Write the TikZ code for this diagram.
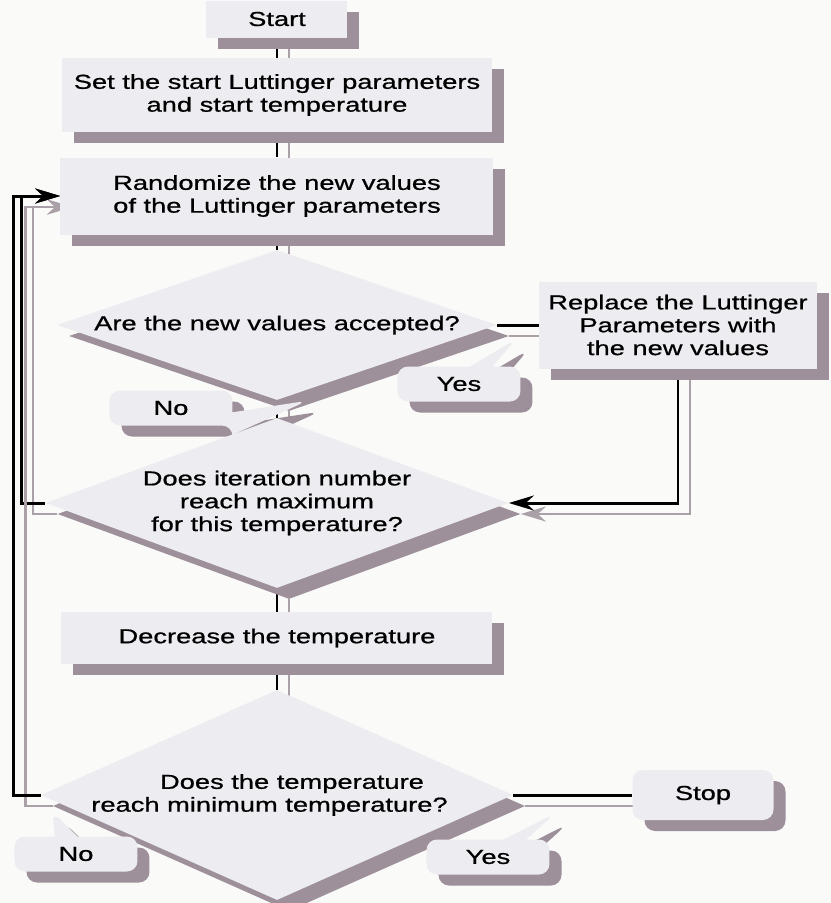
\documentclass[tikz,border=0pt]{standalone}
\usepackage{fontspec}
\setmainfont[FakeStretch=1.35, FakeBold=0.8]{Liberation Sans}
\usetikzlibrary{shapes.geometric, shapes.callouts, shadows, positioning, arrows.meta, backgrounds}

\definecolor{boxfill}{HTML}{EDECF0}
\definecolor{boxshadow}{HTML}{9D909A}
\definecolor{wireshadow}{HTML}{A9A1A7}
\definecolor{pagebg}{HTML}{FAFAF8}

\pgfdeclarelayer{paper}
\pgfsetlayers{paper,background,main}

\begin{document}
\begin{tikzpicture}[
        >={Stealth[length=5mm, width=3mm]},
        on grid,
        font=\fontsize{11.5}{13}\selectfont,
        dropped/.style={drop shadow={shadow xshift=0.24cm, shadow yshift=-0.22cm, fill=boxshadow, opacity=1}},
        stepbox/.style={rectangle, fill=boxfill, dropped, align=center, inner sep=0pt},
        decision/.style={diamond, fill=boxfill, dropped, align=center, inner sep=0pt},
        answer/.style={rectangle callout, fill=boxfill, dropped, rounded corners=6pt,
            minimum width=2.46cm, minimum height=0.7cm, callout pointer width=0.45cm},
        wire/.style={line width=1.7pt, preaction={draw=wireshadow, line width=1.5pt,
            transform canvas={shift={(0.24cm,-0.22cm)}}}}
    ]
    \useasboundingbox (-5.54,-17.68) rectangle (11.08,0.38);
    \begin{pgfonlayer}{paper}
        \fill[pagebg] (-5.54,-17.68) rectangle (11.08,0.38);
    \end{pgfonlayer}

    \node[stepbox, minimum width=2.82cm, minimum height=0.74cm] (start) {Start};
    \node[stepbox, below=1.52cm of start, minimum width=8.6cm, minimum height=1.48cm] (setp)
        {Set the start Luttinger parameters\\and start temperature};
    \node[stepbox, below=2.02cm of setp, minimum width=8.66cm, minimum height=1.54cm] (rand)
        {Randomize the new values\\of the Luttinger parameters};
    \node[decision, below=2.58cm of rand, minimum width=8.8cm, minimum height=3cm, aspect=2.93] (acc)
        {Are the new values accepted?};
    \node[stepbox, right=8.02cm of acc, minimum width=5.56cm, minimum height=1.74cm] (repl)
        {Replace the Luttinger\\Parameters with\\the new values};
    \node[answer, below right=1.18cm and 3.64cm of acc, callout relative pointer={(0.7,0.55)}] (accyes) {Yes};
    \node[answer, below left=1.66cm and 2.12cm of acc, callout relative pointer={(1.5,0.08)}] (accno) {No};
    \node[decision, below=3.56cm of acc, minimum width=9.26cm, minimum height=3.4cm, aspect=2.72] (iter)
        {Does iteration number\\reach maximum\\for this temperature?};
    \node[stepbox, below=2.7cm of iter, minimum width=8.62cm, minimum height=1.04cm] (decr)
        {Decrease the temperature};
    \node[decision, below=3.14cm of decr, minimum width=9.44cm, minimum height=4.2cm, aspect=2.25] (tmin)
        {\kern0.6cm Does the temperature\\reach minimum temperature?\kern0.3cm};
    \node[stepbox, rounded corners=6pt, right=8.52cm of tmin, minimum width=2.82cm, minimum height=1cm] (stop) {Stop};
    \node[answer, below left=1.18cm and 4.02cm of tmin, callout relative pointer={(-0.28,0.5)}] (tminno) {No};
    \node[answer, below right=1.24cm and 4.22cm of tmin, callout relative pointer={(0.8,0.52)}] (tminyes) {Yes};

    \begin{scope}[on background layer]
        \draw[wire] (start) -- (setp);
        \draw[wire] (setp) -- (rand);
        \draw[wire] (rand) -- (acc);
        \draw[wire] (acc) -- (iter);
        \draw[wire] (iter) -- (decr);
        \draw[wire] (decr) -- (tmin);
        \draw[wire] (acc) -- (repl);
        \draw[wire, ->] (repl) |- (iter.east);
        \draw[wire, ->] (iter.west) -- ++(-0.48,0) |- (rand.west);
        \draw[wire, ->] (tmin.west) -- ++(-0.54,0) |- (rand.west);
        \draw[wire] (tmin) -- (stop);
    \end{scope}
\end{tikzpicture}
\end{document}
